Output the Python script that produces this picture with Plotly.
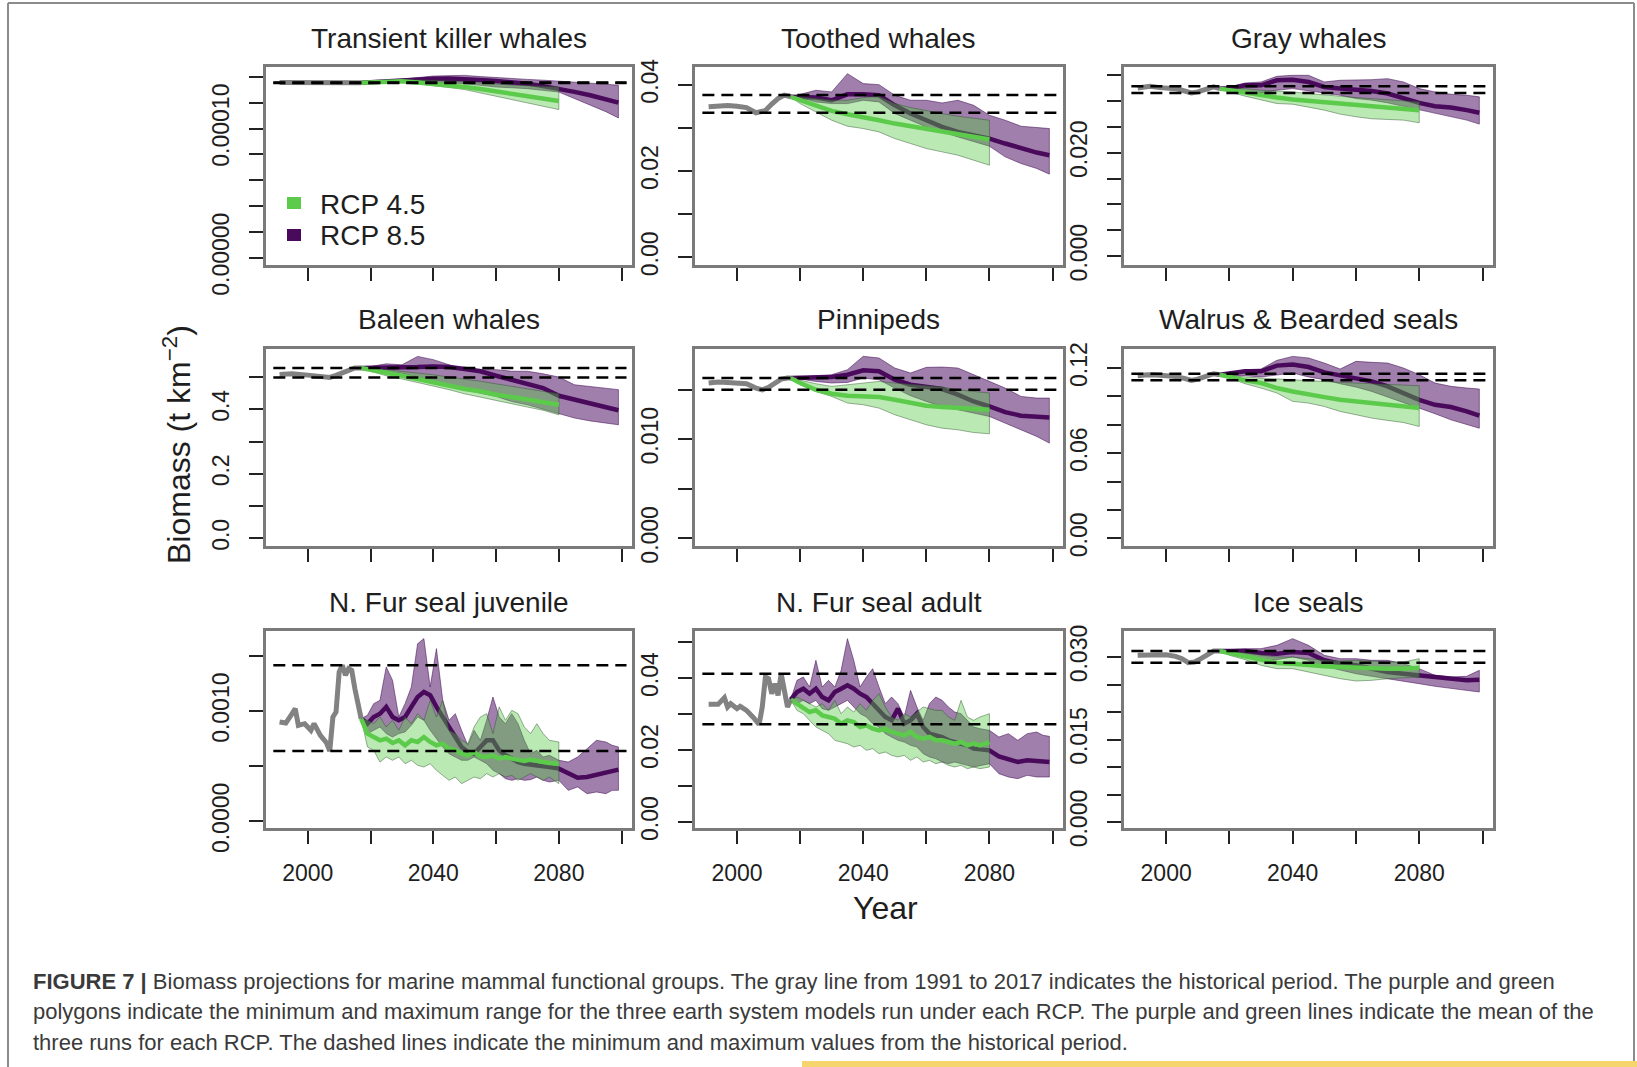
import plotly.graph_objects as go

W, H = 1637, 1067

# ---------------- data ----------------
# projection year grids
YR45 = [2017, 2020, 2025, 2030, 2035, 2040, 2045, 2050, 2055, 2060, 2065, 2070, 2075, 2080]
YR85 = [2017, 2020, 2025, 2030, 2035, 2040, 2045, 2050, 2055, 2060, 2065, 2070, 2075, 2080,
        2085, 2090, 2095, 2099]
FUR45 = [2017, 2019, 2021, 2023, 2025, 2027, 2029, 2031, 2033, 2035, 2037, 2039, 2041, 2043,
         2045, 2047, 2049, 2051, 2053, 2055, 2057, 2059, 2061, 2063, 2065, 2067, 2069, 2071,
         2073, 2075, 2077, 2080]
FUR85 = FUR45 + [2083, 2086, 2089, 2092, 2095, 2097, 2099]

# Transient killer whales
TKW_HIST_YR = [1991, 1995, 2000, 2005, 2010, 2015, 2017]
TKW_HIST = [1.356e-4, 1.355e-4, 1.354e-4, 1.355e-4, 1.353e-4, 1.357e-4, 1.3555e-4]
TKW_45_MEAN = [1.3555e-4, 1.358e-4, 1.362e-4, 1.366e-4, 1.357e-4, 1.348e-4, 1.335e-4, 1.322e-4,
               1.306e-4, 1.289e-4, 1.270e-4, 1.252e-4, 1.233e-4, 1.214e-4]
TKW_45_LO = [1.3555e-4, 1.358e-4, 1.360e-4, 1.358e-4, 1.347e-4, 1.335e-4, 1.318e-4, 1.302e-4,
             1.276e-4, 1.250e-4, 1.224e-4, 1.198e-4, 1.172e-4, 1.147e-4]
TKW_45_HI = [1.3555e-4, 1.361e-4, 1.365e-4, 1.379e-4, 1.377e-4, 1.374e-4, 1.368e-4, 1.361e-4,
             1.352e-4, 1.343e-4, 1.337e-4, 1.332e-4, 1.327e-4, 1.322e-4]
TKW_85_MEAN = [1.3555e-4, 1.360e-4, 1.365e-4, 1.374e-4, 1.380e-4, 1.386e-4, 1.387e-4, 1.386e-4,
               1.377e-4, 1.368e-4, 1.358e-4, 1.348e-4, 1.329e-4, 1.309e-4, 1.284e-4, 1.258e-4,
               1.230e-4, 1.201e-4]
TKW_85_HI = [1.3555e-4, 1.364e-4, 1.370e-4, 1.381e-4, 1.394e-4, 1.407e-4, 1.410e-4, 1.412e-4,
             1.403e-4, 1.394e-4, 1.388e-4, 1.381e-4, 1.375e-4, 1.368e-4, 1.360e-4, 1.353e-4,
             1.344e-4, 1.335e-4]
TKW_85_LO = [1.3555e-4, 1.358e-4, 1.360e-4, 1.363e-4, 1.362e-4, 1.361e-4, 1.355e-4, 1.348e-4,
             1.335e-4, 1.322e-4, 1.316e-4, 1.309e-4, 1.296e-4, 1.283e-4, 1.232e-4, 1.180e-4,
             1.131e-4, 1.082e-4]

# Toothed whales
TW_HIST_YR = [1991, 1994, 1997, 2000, 2003, 2006, 2007, 2009, 2011, 2013, 2015, 2017]
TW_HIST = [0.0349, 0.0351, 0.0352, 0.0350, 0.0347, 0.0335, 0.0336, 0.0340, 0.0355, 0.0368,
           0.0376, 0.0372]
TW_45_MEAN = [0.0372, 0.03639, 0.03500, 0.03392, 0.03315, 0.03254, 0.03177, 0.03099, 0.03038,
              0.02984, 0.02907, 0.02853, 0.02791, 0.02729]
TW_45_HI = [0.0372, 0.03716, 0.03678, 0.03639, 0.03639, 0.03701, 0.03732, 0.03562, 0.03470,
            0.03392, 0.03331, 0.03269, 0.03215, 0.03177]
TW_45_LO = [0.0372, 0.03562, 0.03369, 0.03177, 0.03038, 0.02984, 0.02907, 0.02752, 0.02637,
            0.02521, 0.02444, 0.02367, 0.02251, 0.02136]
TW_85_MEAN = [0.0372, 0.03716, 0.03701, 0.03639, 0.03778, 0.03778, 0.03755, 0.03523, 0.03331,
              0.03177, 0.03022, 0.02907, 0.02830, 0.02752, 0.02637, 0.02521, 0.02428, 0.02367]
TW_85_HI = [0.0372, 0.03778, 0.03870, 0.03832, 0.04256, 0.04025, 0.04001, 0.03755, 0.03639,
            0.03639, 0.03577, 0.03639, 0.03523, 0.03292, 0.03177, 0.03038, 0.03007, 0.02984]
TW_85_LO = [0.0372, 0.03701, 0.03601, 0.03562, 0.03562, 0.03639, 0.03601, 0.03331, 0.03177,
            0.03022, 0.02907, 0.02791, 0.02676, 0.02575, 0.02328, 0.02174, 0.02059, 0.01928]

# Gray whales
GW_HIST_YR = [1991, 1993, 1995, 1998, 2000, 2003, 2005, 2008, 2010, 2013, 2015, 2017]
GW_HIST = [0.03254, 0.03280, 0.03286, 0.03260, 0.03254, 0.03240, 0.03209, 0.03158, 0.03177,
           0.03241, 0.03273, 0.03241]
GW_45_MEAN = [0.03241, 0.03209, 0.03158, 0.03113, 0.03068, 0.03029, 0.03004, 0.02965, 0.02939,
              0.02920, 0.02901, 0.02875, 0.02850, 0.02824]
GW_45_HI = [0.03241, 0.03241, 0.03241, 0.03209, 0.03196, 0.03177, 0.03145, 0.03113, 0.03094,
            0.03068, 0.03049, 0.03029, 0.03004, 0.02984]
GW_45_LO = [0.03241, 0.03177, 0.03094, 0.03017, 0.02952, 0.02939, 0.02875, 0.02824, 0.02747,
            0.02696, 0.02657, 0.02644, 0.02631, 0.02580]
GW_85_MEAN = [0.03241, 0.03241, 0.03305, 0.03305, 0.03402, 0.03414, 0.03369, 0.03273, 0.03241,
              0.03222, 0.03196, 0.03145, 0.03049, 0.02965, 0.02901, 0.02875, 0.02824, 0.02773]
GW_85_HI = [0.03241, 0.03273, 0.03350, 0.03369, 0.03479, 0.03498, 0.03498, 0.03369, 0.03402,
            0.03402, 0.03414, 0.03434, 0.03369, 0.03241, 0.03177, 0.03132, 0.03113, 0.03081]
GW_85_LO = [0.03241, 0.03209, 0.03177, 0.03158, 0.03209, 0.03241, 0.03209, 0.03158, 0.03113,
            0.03049, 0.03017, 0.02965, 0.02901, 0.02837, 0.02760, 0.02696, 0.02631, 0.02554]

# Baleen whales
BW_HIST_YR = [1991, 1995, 2000, 2004, 2007, 2009, 2012, 2015, 2017]
BW_HIST = [0.508, 0.510, 0.506, 0.503, 0.499, 0.505, 0.518, 0.528, 0.528]
BW_45_MEAN = [0.528, 0.523, 0.512, 0.504, 0.494, 0.483, 0.473, 0.463, 0.456, 0.445, 0.438,
              0.430, 0.421, 0.414]
BW_45_HI = [0.528, 0.527, 0.523, 0.518, 0.512, 0.507, 0.500, 0.494, 0.487, 0.479, 0.471,
            0.463, 0.456, 0.448]
BW_45_LO = [0.528, 0.518, 0.504, 0.494, 0.483, 0.473, 0.461, 0.448, 0.438, 0.428, 0.417,
            0.407, 0.397, 0.383]
BW_85_MEAN = [0.528, 0.528, 0.531, 0.528, 0.531, 0.533, 0.531, 0.525, 0.518, 0.504, 0.492,
              0.479, 0.466, 0.442, 0.430, 0.417, 0.407, 0.397]
BW_85_HI = [0.528, 0.533, 0.541, 0.538, 0.564, 0.554, 0.538, 0.525, 0.523, 0.523, 0.518,
            0.518, 0.510, 0.500, 0.476, 0.471, 0.466, 0.461]
BW_85_LO = [0.528, 0.523, 0.518, 0.512, 0.500, 0.487, 0.476, 0.461, 0.450, 0.440, 0.424,
            0.414, 0.401, 0.386, 0.373, 0.364, 0.357, 0.352]

# Pinnipeds
PN_HIST_YR = [1991, 1994, 1997, 2000, 2003, 2006, 2008, 2010, 2012, 2014, 2016, 2017]
PN_HIST = [0.01566, 0.01576, 0.01572, 0.01566, 0.01559, 0.01515, 0.01498, 0.01522, 0.01566,
           0.01606, 0.01616, 0.01616]
PN_45_MEAN = [0.01616, 0.01566, 0.01498, 0.01458, 0.01438, 0.01431, 0.01424, 0.01397, 0.01364,
              0.01337, 0.01323, 0.01313, 0.01303, 0.01296]
PN_45_HI = [0.01616, 0.01593, 0.01559, 0.01532, 0.01549, 0.01572, 0.01582, 0.01566, 0.01549,
            0.01539, 0.01525, 0.01498, 0.01481, 0.01465]
PN_45_LO = [0.01616, 0.01549, 0.01481, 0.01431, 0.01364, 0.01347, 0.01313, 0.01246, 0.01195,
            0.01145, 0.01111, 0.01094, 0.01067, 0.01054]
PN_85_MEAN = [0.01616, 0.01616, 0.01626, 0.01626, 0.01650, 0.01694, 0.01684, 0.01599, 0.01549,
              0.01532, 0.01505, 0.01448, 0.01380, 0.01330, 0.01273, 0.01236, 0.01222, 0.01219]
PN_85_HI = [0.01616, 0.01626, 0.01640, 0.01650, 0.01700, 0.01835, 0.01818, 0.01717, 0.01667,
            0.01724, 0.01727, 0.01717, 0.01650, 0.01582, 0.01515, 0.01431, 0.01414, 0.01414]
PN_85_LO = [0.01616, 0.01606, 0.01582, 0.01566, 0.01572, 0.01616, 0.01599, 0.01515, 0.01438,
            0.01380, 0.01330, 0.01296, 0.01263, 0.01229, 0.01162, 0.01094, 0.01027, 0.00960]

# Walrus & Bearded seals
WB_HIST_YR = [1991, 1994, 1997, 2000, 2003, 2006, 2008, 2010, 2012, 2014, 2015, 2017]
WB_HIST = [0.1146, 0.1153, 0.1150, 0.1146, 0.1141, 0.1125, 0.1113, 0.1122, 0.1141, 0.1155,
           0.1160, 0.1153]
WB_45_MEAN = [0.1153, 0.1137, 0.1113, 0.1094, 0.1059, 0.1035, 0.1012, 0.0995, 0.0976, 0.0965,
              0.0953, 0.0941, 0.0929, 0.0918]
WB_45_HI = [0.1153, 0.1146, 0.1137, 0.1129, 0.1122, 0.1118, 0.1113, 0.1106, 0.1099, 0.1094,
            0.1089, 0.1082, 0.1082, 0.1075]
WB_45_LO = [0.1153, 0.1129, 0.1089, 0.1059, 0.1024, 0.0965, 0.0953, 0.0929, 0.0894, 0.0871,
            0.0847, 0.0831, 0.0816, 0.0788]
WB_85_MEAN = [0.1153, 0.1160, 0.1177, 0.1177, 0.1217, 0.1224, 0.1207, 0.1169, 0.1146, 0.1129,
              0.1106, 0.1071, 0.1024, 0.0976, 0.0941, 0.0925, 0.0894, 0.0864]
WB_85_HI = [0.1153, 0.1169, 0.1188, 0.1193, 0.1254, 0.1282, 0.1271, 0.1235, 0.1193, 0.1247,
            0.1240, 0.1235, 0.1200, 0.1153, 0.1094, 0.1071, 0.1059, 0.1052]
WB_85_LO = [0.1153, 0.1146, 0.1146, 0.1137, 0.1153, 0.1165, 0.1137, 0.1118, 0.1089, 0.1066,
            0.1035, 0.1000, 0.0958, 0.0918, 0.0878, 0.0835, 0.0800, 0.0776]

# N. Fur seal juvenile
FJ_HIST_YR = [1991, 1993, 1995, 1996, 1997, 1999, 2001, 2002, 2004, 2006, 2007, 2008, 2009,
              2010, 2011, 2012, 2013, 2014, 2015, 2016, 2017]
FJ_HIST = [0.000901, 0.000892, 0.000977, 0.001022, 0.000871, 0.000886, 0.000826, 0.000886,
           0.000780, 0.000711, 0.000638, 0.000947, 0.000992, 0.001355, 0.001416, 0.001325,
           0.001385, 0.001370, 0.001204, 0.001068, 0.000932]
FJ_45_MEAN = [0.000932, 0.000796, 0.000765, 0.000735, 0.000750, 0.000711, 0.000735, 0.000690,
              0.000735, 0.000720, 0.000765, 0.000720, 0.000690, 0.000705, 0.000659, 0.000644,
              0.000614, 0.000599, 0.000629, 0.000590, 0.000584, 0.000599, 0.000569, 0.000584,
              0.000569, 0.000554, 0.000548, 0.000560, 0.000554, 0.000538, 0.000529, 0.000523]
FJ_45_HI = [0.000932, 0.000917, 0.000886, 0.000947, 0.000856, 0.000917, 0.000826, 0.000947,
            0.000886, 0.000977, 0.000917, 0.001098, 0.000947, 0.001098, 0.000826, 0.000796,
            0.000735, 0.000705, 0.000856, 0.000947, 0.000977, 0.000796, 0.001038, 0.000917,
            0.001007, 0.000977, 0.000856, 0.000796, 0.000886, 0.000796, 0.000735, 0.000720]
FJ_45_LO = [0.000932, 0.000675, 0.000644, 0.000538, 0.000584, 0.000554, 0.000584, 0.000523,
            0.000554, 0.000508, 0.000493, 0.000523, 0.000463, 0.000417, 0.000372, 0.000402,
            0.000342, 0.000372, 0.000402, 0.000387, 0.000433, 0.000402, 0.000433, 0.000402,
            0.000417, 0.000372, 0.000402, 0.000433, 0.000402, 0.000372, 0.000402, 0.000342]
FJ_85_MEAN = [0.000932, 0.000886, 0.000947, 0.000977, 0.001038, 0.000947, 0.000917, 0.000947,
              0.001038, 0.001128, 0.001174, 0.001144, 0.001038, 0.000947, 0.000856, 0.000765,
              0.000675, 0.000629, 0.000614, 0.000675, 0.000735, 0.000735, 0.000644, 0.000599,
              0.000569, 0.000538, 0.000523, 0.000517, 0.000508, 0.000499, 0.000493, 0.000478,
              0.000433, 0.000396, 0.000402, 0.000424, 0.000448, 0.000457, 0.000469]
FJ_85_HI = [0.000932, 0.000962, 0.001068, 0.001098, 0.001401, 0.001280, 0.000947, 0.001068,
            0.001219, 0.001612, 0.001658, 0.001219, 0.001567, 0.001098, 0.000917, 0.000977,
            0.000826, 0.000690, 0.000826, 0.000735, 0.000917, 0.001128, 0.000947, 0.000886,
            0.000977, 0.000886, 0.000735, 0.000614, 0.000644, 0.000584, 0.000599, 0.000554,
            0.000538, 0.000584, 0.000659, 0.000735, 0.000720, 0.000690, 0.000675]
FJ_85_LO = [0.000932, 0.000796, 0.000826, 0.000856, 0.000796, 0.000765, 0.000796, 0.000811,
            0.000871, 0.000947, 0.000917, 0.000826, 0.000750, 0.000675, 0.000614, 0.000584,
            0.000554, 0.000554, 0.000584, 0.000554, 0.000523, 0.000463, 0.000433, 0.000387,
            0.000372, 0.000387, 0.000372, 0.000378, 0.000402, 0.000372, 0.000357, 0.000372,
            0.000281, 0.000312, 0.000251, 0.000266, 0.000251, 0.000281, 0.000281]

# N. Fur seal adult
FA_HIST_YR = [1991, 1994, 1996, 1997, 1998, 2000, 2001, 2003, 2005, 2007, 2008, 2009, 2010,
              2011, 2012, 2013, 2014, 2015, 2016, 2017]
FA_HIST = [0.03268, 0.03268, 0.03454, 0.03194, 0.03287, 0.03148, 0.03213, 0.03102, 0.02917,
           0.02713, 0.03194, 0.04028, 0.03981, 0.03565, 0.03843, 0.03518, 0.04120, 0.03657,
           0.03194, 0.03398]
FA_45_MEAN = [0.03398, 0.03287, 0.03194, 0.03055, 0.03102, 0.02963, 0.02917, 0.02870, 0.02731,
              0.02824, 0.02778, 0.02639, 0.02685, 0.02593, 0.02546, 0.02593, 0.02500, 0.02454,
              0.02407, 0.02500, 0.02361, 0.02315, 0.02361, 0.02268, 0.02268, 0.02222, 0.02176,
              0.02222, 0.02130, 0.02176, 0.02130, 0.02222]
FA_45_HI = [0.03398, 0.03472, 0.03380, 0.03287, 0.03194, 0.03287, 0.03102, 0.03380, 0.03009,
            0.03194, 0.03055, 0.03287, 0.03102, 0.03380, 0.03565, 0.03194, 0.02917, 0.02824,
            0.03009, 0.02917, 0.03055, 0.03194, 0.03148, 0.03102, 0.03102, 0.02917, 0.02824,
            0.03380, 0.02917, 0.02824, 0.02917, 0.03009]
FA_45_LO = [0.03398, 0.03102, 0.03009, 0.02824, 0.02639, 0.02546, 0.02454, 0.02268, 0.02222,
            0.02176, 0.02083, 0.02130, 0.01991, 0.02037, 0.01898, 0.01944, 0.01852, 0.01806,
            0.01852, 0.01713, 0.01806, 0.01667, 0.01713, 0.01620, 0.01667, 0.01574, 0.01528,
            0.01574, 0.01481, 0.01528, 0.01481, 0.01528]
FA_85_MEAN = [0.03398, 0.03611, 0.03704, 0.03565, 0.03704, 0.03472, 0.03380, 0.03611, 0.03704,
              0.03796, 0.03704, 0.03565, 0.03472, 0.03287, 0.03102, 0.02917, 0.02824, 0.03148,
              0.02731, 0.02824, 0.03009, 0.02639, 0.02454, 0.02407, 0.02361, 0.02268, 0.02222,
              0.02194, 0.02130, 0.02037, 0.02009, 0.01991, 0.01824, 0.01759, 0.01667, 0.01713,
              0.01694, 0.01694, 0.01667]
FA_85_HI = [0.03398, 0.03935, 0.04028, 0.03750, 0.04491, 0.03750, 0.03935, 0.03750, 0.04213,
            0.05093, 0.04491, 0.03750, 0.04028, 0.04259, 0.03750, 0.03287, 0.03472, 0.03287,
            0.02917, 0.03657, 0.03194, 0.02824, 0.03287, 0.03472, 0.03380, 0.03194, 0.03055,
            0.03009, 0.02824, 0.02639, 0.02593, 0.02546, 0.02361, 0.02454, 0.02268, 0.02454,
            0.02500, 0.02407, 0.02380]
FA_85_LO = [0.03398, 0.03287, 0.03380, 0.03287, 0.03380, 0.03148, 0.03102, 0.03194, 0.03287,
            0.03380, 0.03194, 0.03009, 0.02917, 0.02731, 0.02639, 0.02454, 0.02361, 0.02268,
            0.02222, 0.02130, 0.02083, 0.01898, 0.01806, 0.01759, 0.01667, 0.01620, 0.01667,
            0.01620, 0.01574, 0.01528, 0.01574, 0.01620, 0.01343, 0.01250, 0.01204, 0.01296,
            0.01250, 0.01250, 0.01250]

# Ice seals
IS_HIST_YR = [1991, 1994, 1997, 2000, 2003, 2005, 2007, 2009, 2011, 2013, 2015, 2017]
IS_HIST = [0.03030, 0.03030, 0.03042, 0.03042, 0.03012, 0.02970, 0.02897, 0.02909, 0.02970,
           0.03030, 0.03109, 0.03109]
IS_45_MEAN = [0.03109, 0.03073, 0.03000, 0.02940, 0.02891, 0.02879, 0.02849, 0.02830, 0.02818,
              0.02806, 0.02788, 0.02788, 0.02788, 0.02806]
IS_45_HI = [0.03109, 0.03109, 0.03073, 0.03031, 0.03000, 0.03000, 0.02970, 0.02940, 0.02927,
            0.02940, 0.02927, 0.02909, 0.02909, 0.02970]
IS_45_LO = [0.03109, 0.03031, 0.02952, 0.02849, 0.02788, 0.02788, 0.02727, 0.02667, 0.02606,
            0.02564, 0.02576, 0.02606, 0.02624, 0.02637]
IS_85_MEAN = [0.03109, 0.03109, 0.03109, 0.03073, 0.03061, 0.03091, 0.03073, 0.02940, 0.02879,
              0.02849, 0.02788, 0.02727, 0.02697, 0.02667, 0.02624, 0.02588, 0.02576, 0.02588]
IS_85_HI = [0.03109, 0.03134, 0.03152, 0.03152, 0.03212, 0.03334, 0.03212, 0.03031, 0.02970,
            0.02970, 0.02940, 0.02940, 0.02879, 0.02788, 0.02667, 0.02637, 0.02649, 0.02758]
IS_85_LO = [0.03109, 0.03061, 0.03000, 0.02940, 0.02952, 0.03000, 0.02940, 0.02830, 0.02758,
            0.02697, 0.02649, 0.02606, 0.02564, 0.02515, 0.02467, 0.02424, 0.02394, 0.02364]

# panel titles and y-axis ticks (tick values, labelled values)
TITLES = ["Transient killer whales", "Toothed whales", "Gray whales",
          "Baleen whales", "Pinnipeds", "Walrus & Bearded seals",
          "N. Fur seal juvenile", "N. Fur seal adult", "Ice seals"]
YTICKS = [
    ([0, 2e-5, 4e-5, 6e-5, 8e-5, 1e-4, 1.2e-4, 1.4e-4], {0: "0.00000", 5: "0.00010"}),
    ([0, 0.01, 0.02, 0.03, 0.04], {0: "0.00", 2: "0.02", 4: "0.04"}),
    ([0, 0.005, 0.01, 0.015, 0.02, 0.025, 0.03, 0.035], {0: "0.000", 4: "0.020"}),
    ([0, 0.1, 0.2, 0.3, 0.4, 0.5], {0: "0.0", 2: "0.2", 4: "0.4"}),
    ([0, 0.005, 0.01, 0.015], {0: "0.000", 2: "0.010"}),
    ([0, 0.02, 0.04, 0.06, 0.08, 0.10, 0.12], {0: "0.00", 3: "0.06", 6: "0.12"}),
    ([0, 0.0005, 0.001, 0.0015], {0: "0.0000", 2: "0.0010"}),
    ([0, 0.01, 0.02, 0.03, 0.04, 0.05], {0: "0.00", 2: "0.02", 4: "0.04"}),
    ([0, 0.005, 0.01, 0.015, 0.02, 0.025, 0.03], {0: "0.000", 3: "0.015", 6: "0.030"}),
]
YRANGES = [(-0.0000057, 0.0001477), (-0.00177, 0.0441), (-0.00173, 0.03659),
           (-0.0238, 0.587), (-0.000774, 0.01909), (-0.0054, 0.1334),
           (-0.0000605, 0.001727), (-0.00167, 0.05306), (-0.00109, 0.03473)]
XTICKS = [2000, 2020, 2040, 2060, 2080, 2100]
XLABELS = ["2000", "", "2040", "", "2080", ""]

PANELS = [
    (TKW_HIST_YR, TKW_HIST, YR45, TKW_45_MEAN, TKW_45_LO, TKW_45_HI, YR85, TKW_85_MEAN, TKW_85_LO, TKW_85_HI),
    (TW_HIST_YR, TW_HIST, YR45, TW_45_MEAN, TW_45_LO, TW_45_HI, YR85, TW_85_MEAN, TW_85_LO, TW_85_HI),
    (GW_HIST_YR, GW_HIST, YR45, GW_45_MEAN, GW_45_LO, GW_45_HI, YR85, GW_85_MEAN, GW_85_LO, GW_85_HI),
    (BW_HIST_YR, BW_HIST, YR45, BW_45_MEAN, BW_45_LO, BW_45_HI, YR85, BW_85_MEAN, BW_85_LO, BW_85_HI),
    (PN_HIST_YR, PN_HIST, YR45, PN_45_MEAN, PN_45_LO, PN_45_HI, YR85, PN_85_MEAN, PN_85_LO, PN_85_HI),
    (WB_HIST_YR, WB_HIST, YR45, WB_45_MEAN, WB_45_LO, WB_45_HI, YR85, WB_85_MEAN, WB_85_LO, WB_85_HI),
    (FJ_HIST_YR, FJ_HIST, FUR45, FJ_45_MEAN, FJ_45_LO, FJ_45_HI, FUR85, FJ_85_MEAN, FJ_85_LO, FJ_85_HI),
    (FA_HIST_YR, FA_HIST, FUR45, FA_45_MEAN, FA_45_LO, FA_45_HI, FUR85, FA_85_MEAN, FA_85_LO, FA_85_HI),
    (IS_HIST_YR, IS_HIST, YR45, IS_45_MEAN, IS_45_LO, IS_45_HI, YR85, IS_85_MEAN, IS_85_LO, IS_85_HI),
]

# ---------------- styling ----------------
FONT = "Liberation Sans, Arial, Helvetica, sans-serif"
TXT = "#1e1e1e"
PURPLE_FILL = "rgba(65,0,90,0.50)"
PURPLE_EDGE = "rgba(55,0,75,0.50)"
PURPLE_LINE = "#4a0a5c"
GREEN_FILL = "rgba(85,200,65,0.40)"
GREEN_EDGE = "rgba(40,80,40,0.45)"
GREEN_LINE = "#5ccb4c"
HIST_LINE = "#828282"
BOX = "#7a7a7a"

COL_X = [(266, 632), (695, 1063), (1124, 1493)]
ROW_Y = [(67, 265), (349, 546), (631, 828)]
XRANGE = [1986.68, 2103.32]


def px(x):
    return x / W


def py(y):
    return 1 - y / H


fig = go.Figure()
shapes = []
annotations = []
layout = {}

for i, (hy, hv, y45, m45, lo45, hi45, y85, m85, lo85, hi85) in enumerate(PANELS):
    r, c = divmod(i, 3)
    n = i + 1
    xa = "x" if n == 1 else f"x{n}"
    ya = "y" if n == 1 else f"y{n}"

    # RCP 8.5 envelope and mean
    fig.add_trace(go.Scatter(x=y85 + y85[::-1], y=hi85 + lo85[::-1], fill="toself",
                             fillcolor=PURPLE_FILL, line=dict(color=PURPLE_EDGE, width=1),
                             mode="lines", hoverinfo="skip", showlegend=False,
                             xaxis=xa, yaxis=ya))
    fig.add_trace(go.Scatter(x=y85, y=m85, mode="lines",
                             line=dict(color=PURPLE_LINE, width=4.5),
                             showlegend=False, xaxis=xa, yaxis=ya))
    # RCP 4.5 envelope and mean
    fig.add_trace(go.Scatter(x=y45 + y45[::-1], y=hi45 + lo45[::-1], fill="toself",
                             fillcolor=GREEN_FILL, line=dict(color=GREEN_EDGE, width=1),
                             mode="lines", hoverinfo="skip", showlegend=False,
                             xaxis=xa, yaxis=ya))
    fig.add_trace(go.Scatter(x=y45, y=m45, mode="lines",
                             line=dict(color=GREEN_LINE, width=4.5),
                             showlegend=False, xaxis=xa, yaxis=ya))
    # historical period
    fig.add_trace(go.Scatter(x=hy, y=hv, mode="lines",
                             line=dict(color=HIST_LINE, width=5),
                             showlegend=False, xaxis=xa, yaxis=ya))

    # historical min / max reference lines
    for v in (min(hv), max(hv)):
        shapes.append(dict(type="line", xref=f"{xa} domain", yref=ya, x0=0.02, x1=0.985,
                           y0=v, y1=v, line=dict(color="black", width=2.5, dash="12px,7px"),
                           layer="above"))

    x0, x1 = COL_X[c]
    yt, yb = ROW_Y[r]
    tickvals, labelled = YTICKS[i]
    layout["xaxis" if n == 1 else f"xaxis{n}"] = dict(
        domain=[px(x0), px(x1)], anchor=ya, range=XRANGE, automargin=False,
        tickvals=XTICKS, ticktext=XLABELS if r == 2 else [""] * len(XTICKS),
        ticks="outside", ticklen=13, tickwidth=2, tickcolor="#222",
        ticklabelstandoff=10,
        showline=True, linecolor=BOX, linewidth=2.5, mirror=True,
        showgrid=False, zeroline=False,
        tickfont=dict(family=FONT, size=23, color=TXT))
    layout["yaxis" if n == 1 else f"yaxis{n}"] = dict(
        domain=[py(yb), py(yt)], anchor=xa, range=list(YRANGES[i]), automargin=False,
        tickvals=tickvals,
        ticktext=[labelled.get(k, "") for k in range(len(tickvals))],
        tickangle=-90, ticks="outside", ticklen=14, tickwidth=2, tickcolor="#222",
        ticklabelstandoff=11,
        showline=True, linecolor=BOX, linewidth=2.5, mirror=True,
        showgrid=False, zeroline=False,
        tickfont=dict(family=FONT, size=23, color=TXT))

    title_y = [38, 320, 602][r]
    annotations.append(dict(text=TITLES[i], x=px((x0 + x1) / 2), y=py(title_y),
                            xref="paper", yref="paper", showarrow=False,
                            xanchor="center", yanchor="middle",
                            font=dict(family=FONT, size=28, color=TXT)))

# legend in the first panel
for yc, col, lab in ((203, "#5ccb4c", "RCP 4.5"), (235, "#4a0a5c", "RCP 8.5")):
    shapes.append(dict(type="rect", xref="paper", yref="paper",
                       x0=px(287), x1=px(301), y0=py(yc + 6), y1=py(yc - 6),
                       fillcolor=col, line=dict(width=0)))
    annotations.append(dict(text=lab, x=px(318), y=py(yc + 1), xref="paper", yref="paper",
                            showarrow=False, xanchor="left", yanchor="middle",
                            font=dict(family=FONT, size=28, color=TXT)))

# shared axis titles
annotations.append(dict(text="Biomass (t km<sup>−2</sup>)", x=px(177), y=py(445),
                        xref="paper", yref="paper", showarrow=False, textangle=-90,
                        xanchor="center", yanchor="middle",
                        font=dict(family=FONT, size=32, color=TXT)))
annotations.append(dict(text="Year", x=px(885), y=py(908), xref="paper", yref="paper",
                        showarrow=False, xanchor="center", yanchor="middle",
                        font=dict(family=FONT, size=32, color=TXT)))

# caption
CAPTION = [
    "<b>FIGURE 7 |</b> Biomass projections for marine mammal functional groups. The gray line "
    "from 1991 to 2017 indicates the historical period. The purple and green",
    "polygons indicate the minimum and maximum range for the three earth system models run "
    "under each RCP. The purple and green lines indicate the mean of the",
    "three runs for each RCP. The dashed lines indicate the minimum and maximum values from "
    "the historical period.",
]
for k, line in enumerate(CAPTION):
    annotations.append(dict(text=line, x=px(31), y=py(981 + 30.5 * k), xref="paper",
                            yref="paper", showarrow=False, xanchor="left", yanchor="middle",
                            font=dict(family=FONT, size=22, color="#3a3a3a")))

# page frame and footer strip
shapes += [
    dict(type="line", xref="paper", yref="paper", x0=px(8), x1=px(1634), y0=py(3), y1=py(3),
         line=dict(color="#8c8c8c", width=2)),
    dict(type="line", xref="paper", yref="paper", x0=px(8), x1=px(8), y0=py(3), y1=0,
         line=dict(color="#8c8c8c", width=2)),
    dict(type="line", xref="paper", yref="paper", x0=px(1634), x1=px(1634), y0=py(3), y1=0,
         line=dict(color="#8c8c8c", width=2)),
    dict(type="rect", xref="paper", yref="paper", x0=px(802), x1=1, y0=0, y1=py(1061),
         fillcolor="#f6d56e", line=dict(width=0)),
]

fig.update_layout(
    width=W, height=H,
    margin=dict(l=0, r=0, t=0, b=0, pad=0, autoexpand=False),
    paper_bgcolor="white", plot_bgcolor="white",
    shapes=shapes, annotations=annotations, showlegend=False,
    **layout,
)

fig.write_html("out.html")
